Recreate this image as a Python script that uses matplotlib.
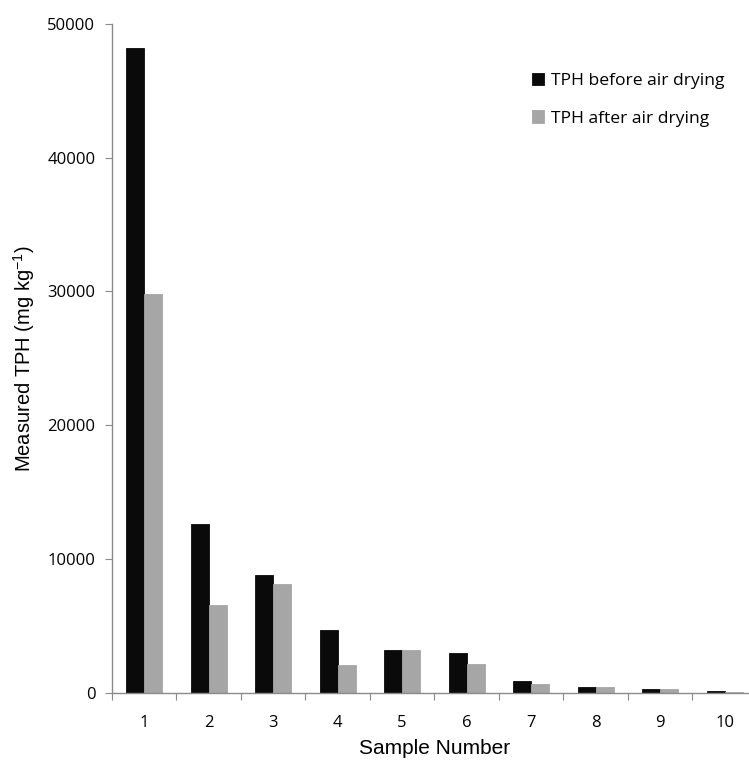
import matplotlib
matplotlib.use("Agg")
import matplotlib.pyplot as plt
import numpy as np

samples = ["1", "2", "3", "4", "5", "6", "7", "8", "9", "10"]
tph_before = [48200, 12600, 8800, 4700, 3200, 2950, 900, 450, 300, 130]
tph_after = [29800, 6550, 8150, 2050, 3200, 2150, 680, 430, 280, 90]
y_ticks = [0, 10000, 20000, 30000, 40000, 50000]

axis_grey = "#8a8a8a"
tick_font = "Open Sans"
label_font = "Liberation Sans"

fig = plt.figure(figsize=(7.49, 7.65), dpi=100)
ax = fig.add_axes([0.1495, 0.0945, 0.861, 0.8741])

x = np.arange(len(samples))
w = 0.28
ax.bar(x - w / 2, tph_before, width=w, color="#0a0a0a", edgecolor="#0a0a0a",
       linewidth=0.6, label="TPH before air drying")
ax.bar(x + w / 2, tph_after, width=w, color="#a6a6a6", edgecolor="#a6a6a6",
       linewidth=0.6, label="TPH after air drying")

ax.set_xlim(-0.5, len(samples) - 0.5)
ax.set_ylim(0, 50000)
ax.set_yticks(y_ticks)
ax.set_yticklabels([str(v) for v in y_ticks], fontsize=12, family=tick_font)

# ticks on the category boundaries, labels on the centres
ax.set_xticks(np.arange(len(samples) + 1) - 0.5)
ax.set_xticklabels([])
ax.set_xticks(x, minor=True)
ax.set_xticklabels(samples, minor=True, fontsize=12, family=tick_font)
ax.tick_params(axis="x", which="minor", length=0, pad=16)
ax.tick_params(axis="x", which="major", length=5, color=axis_grey, direction="out")
ax.tick_params(axis="y", length=5, color=axis_grey, direction="out", pad=7)

for side in ["top", "right"]:
    ax.spines[side].set_visible(False)
for side in ["left", "bottom"]:
    ax.spines[side].set_color(axis_grey)
    ax.spines[side].set_linewidth(1.0)

ax.set_xlabel("Sample Number", fontsize=15, family=label_font, labelpad=6)
ax.set_ylabel("Measured TPH (mg kg$^{\\mathregular{-1}}$)", fontsize=14.5,
              family=label_font, labelpad=7)

ax.legend(frameon=False, loc="upper left", bbox_to_anchor=(0.689, 0.925),
          bbox_transform=fig.transFigure, prop={"family": tick_font, "size": 12.6},
          handlelength=0.7, handleheight=0.7, handletextpad=0.4, labelspacing=1.2)

fig.savefig("out.png", dpi=100)
